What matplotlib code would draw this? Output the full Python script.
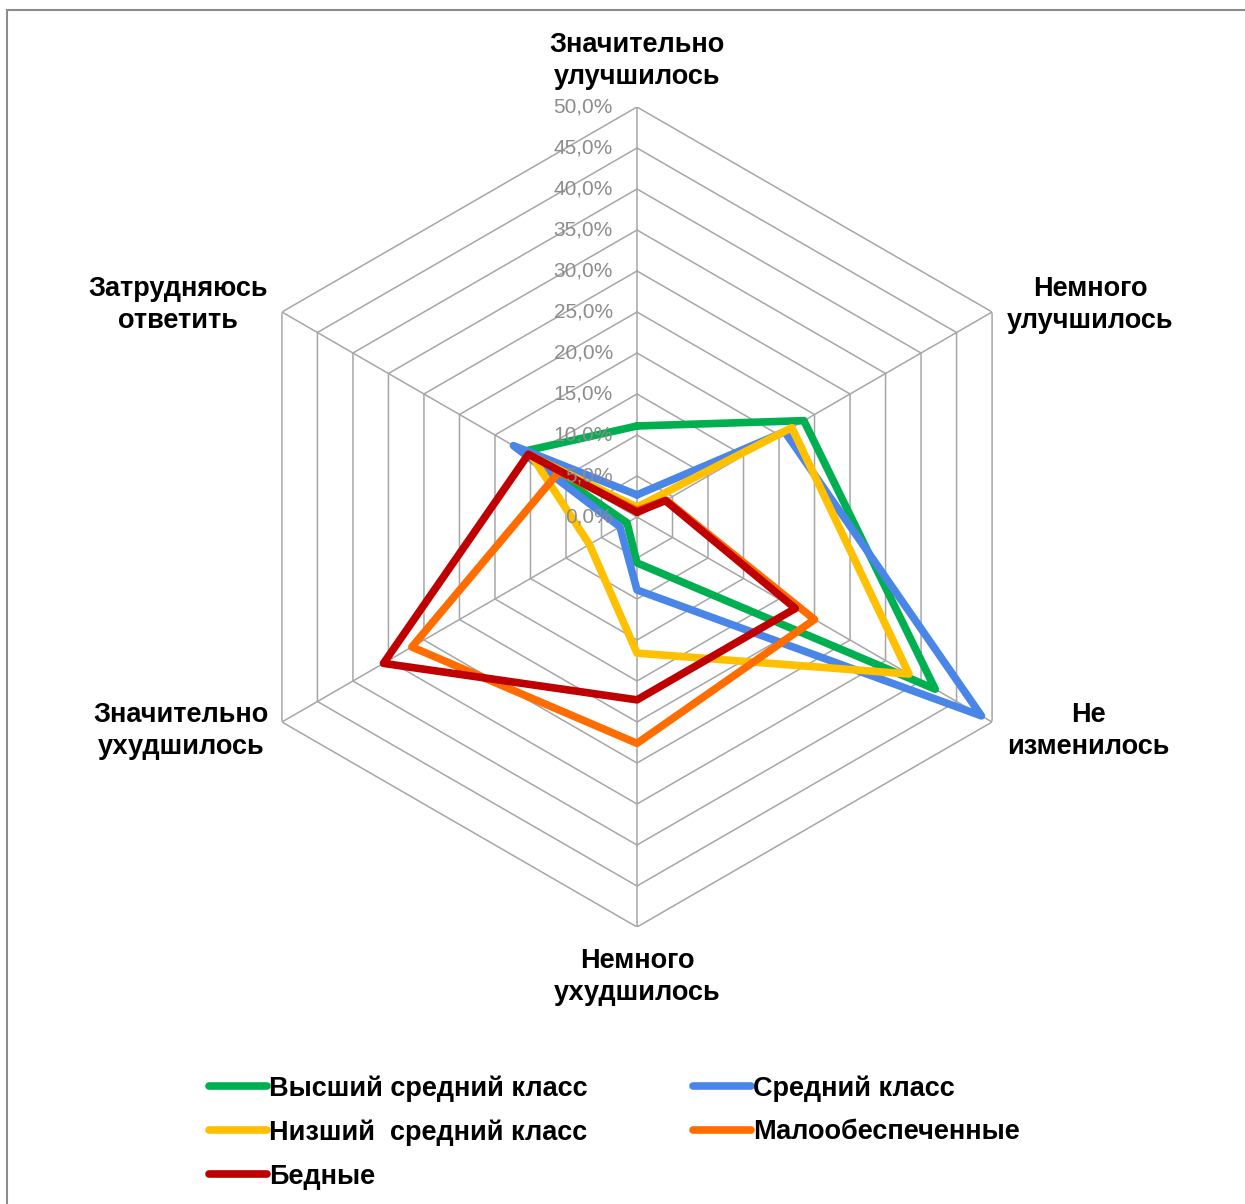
import matplotlib.pyplot as plt
import numpy as np
from matplotlib.patches import Rectangle
from matplotlib.lines import Line2D

plt.rcParams['font.family'] = ['Liberation Sans', 'DejaVu Sans']

# Data points
categories = ["Значительно\nулучшилось", "Немного\nулучшилось", "Не\nизменилось",
              "Немного\nухудшилось", "Значительно\nухудшилось", "Затрудняюсь\nответить"]

series_names = ["Высший средний класс", "Средний класс", "Низший  средний класс",
                "Малообеспеченные", "Бедные"]
upper_middle = [11.1, 23.5, 42.0, 5.6, 1.4, 16.0]
middle = [2.7, 20.8, 48.5, 8.9, 2.4, 17.4]
lower_middle = [1.2, 21.8, 38.3, 16.6, 6.7, 14.8]
low_income = [0.8, 4.1, 25.0, 27.6, 31.7, 11.0]
poor = [0.6, 4.0, 22.3, 22.3, 35.7, 15.3]
colors = ["#00B050", "#4A86E8", "#FFC000", "#FF6D00", "#C00000"]

r_ticks = np.arange(0, 55, 5)
r_labels = ["%.1f%%" % v for v in r_ticks]
r_labels = [s.replace(".", ",") for s in r_labels]

W, H = 1245, 1204


def plot_data():
    fig = plt.figure(figsize=(W / 100, H / 100), dpi=100)
    cx, cy, rad = 637, 517, 410
    ax = fig.add_axes([(cx - rad) / W, (H - cy - rad) / H, 2 * rad / W, 2 * rad / H],
                      projection="polar")
    ax.set_theta_offset(np.pi / 2)
    ax.set_theta_direction(-1)
    ax.set_ylim(0, 50)
    ax.grid(False)
    ax.set_xticks([])
    ax.set_yticks([])
    ax.spines["polar"].set_visible(False)
    ax.patch.set_visible(False)

    angles = np.linspace(0, 2 * np.pi, len(categories), endpoint=False)
    closed = np.append(angles, angles[0])

    # hexagon grid
    grid_col = "#a6a6a6"
    for r in r_ticks[1:]:
        ax.plot(closed, [r] * len(closed), color=grid_col, lw=1.1, zorder=1)
    for a in angles:
        ax.plot([a, a], [0, 50], color=grid_col, lw=1.1, zorder=1)

    # series
    all_series = [upper_middle, middle, lower_middle, low_income, poor]
    for vals, c in zip(all_series, colors):
        v = np.append(vals, vals[0])
        ax.plot(closed, v, color=c, lw=5.5, solid_joinstyle="round",
                solid_capstyle="round", zorder=3)

    # radial labels
    for r, lab in zip(r_ticks, r_labels):
        ax.annotate(lab, xy=(0, r), xytext=(-24, 0), textcoords="offset pixels",
                    ha="right", va="center", fontsize=15, color="#8c8c8c", zorder=5)

    # category labels
    offsets = [(0, 46), (98, 7), (96, -9), (0, -50), (-101, -9), (-104, 7)]
    for a, lab, off in zip(angles, categories, offsets):
        ax.annotate(lab, xy=(a, 50), xytext=off, textcoords="offset pixels",
                    ha="center", va="center", fontsize=19.5, fontweight="bold",
                    linespacing=1.3, annotation_clip=False)

    # legend (column-major order)
    handles = [Line2D([], [], color=c, lw=5.5, solid_capstyle="round") for c in colors]
    order = [0, 2, 4, 1, 3]
    fig.legend([handles[i] for i in order], [series_names[i] for i in order],
               loc="upper left", bbox_to_anchor=(209 / W, 1 - 1075 / H),
               ncol=2, frameon=False, borderpad=0, borderaxespad=0,
               handlelength=2.14, handletextpad=0.07, columnspacing=3.9,
               labelspacing=0.66, prop={"size": 19.5, "weight": "bold"})

    # outer frame
    fig.patches.append(Rectangle((7 / W, -0.02), 1.1, 1 - 10 / H + 0.02,
                                 transform=fig.transFigure, fill=False,
                                 edgecolor="#8c8c8c", lw=1.5))

    plt.savefig("out.png", dpi=100)


if __name__ == "__main__":
    plot_data()
